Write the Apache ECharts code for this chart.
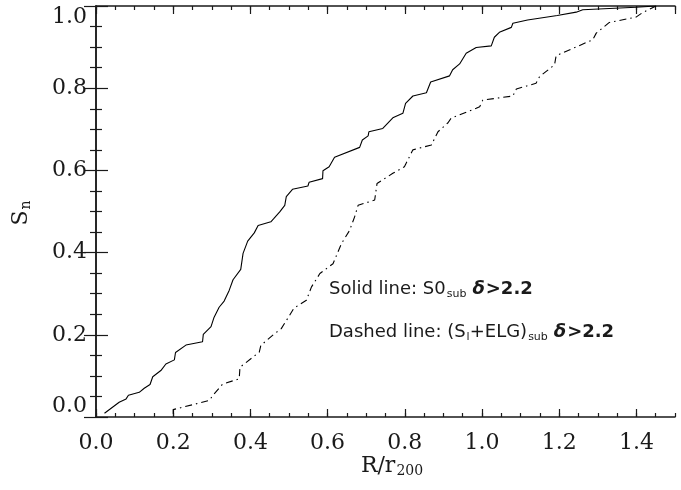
<!DOCTYPE html>
<html>
<head>
<meta charset="utf-8">
<script src="https://cdn.jsdelivr.net/npm/echarts@6/dist/echarts.min.js"></script>
<style>
  html, body { margin: 0; padding: 0; background: #fff; }
  #chart { width: 681px; height: 490px; }
</style>
</head>
<body>
<div id="chart"></div>
<script>
// cumulative fraction S_n vs R/r200
const solidR = [0.022, 0.060, 0.078, 0.084, 0.112, 0.125, 0.140, 0.147, 0.168, 0.181, 0.203, 0.206, 0.233, 0.276, 0.278,
    0.298, 0.306, 0.319, 0.332, 0.345, 0.355, 0.375, 0.381, 0.393, 0.410, 0.420, 0.453, 0.461, 0.476, 0.489,
    0.493, 0.509, 0.549, 0.552, 0.587, 0.588, 0.604, 0.618, 0.683, 0.690, 0.705, 0.707, 0.743, 0.769, 0.795,
    0.802, 0.821, 0.856, 0.867, 0.916, 0.924, 0.942, 0.959, 0.985, 1.024, 1.032, 1.045, 1.076, 1.080, 1.118,
    1.195, 1.244, 1.261, 1.399, 1.451]
const solidS = [0.009, 0.036, 0.044, 0.053, 0.060, 0.070, 0.079, 0.098, 0.113, 0.129, 0.139, 0.157, 0.175, 0.183, 0.201,
    0.220, 0.243, 0.267, 0.282, 0.308, 0.334, 0.359, 0.398, 0.428, 0.448, 0.466, 0.475, 0.483, 0.499, 0.515,
    0.536, 0.554, 0.562, 0.571, 0.580, 0.599, 0.609, 0.632, 0.656, 0.674, 0.684, 0.694, 0.702, 0.728, 0.739,
    0.763, 0.781, 0.789, 0.815, 0.830, 0.845, 0.859, 0.885, 0.899, 0.903, 0.924, 0.936, 0.948, 0.958, 0.966,
    0.977, 0.985, 0.991, 0.997, 1.0]

const dashR = [0.200, 0.200, 0.293, 0.306, 0.328, 0.371, 0.373, 0.423, 0.427, 0.459, 0.480, 0.500, 0.513, 0.545, 0.558,
    0.580, 0.614, 0.636, 0.657, 0.670, 0.679, 0.722, 0.728, 0.769, 0.799, 0.821, 0.869, 0.886, 0.912, 0.920,
    0.985, 0.994, 1.002, 1.080, 1.089, 1.140, 1.149, 1.188, 1.192, 1.287, 1.296, 1.330, 1.399, 1.416, 1.451]
const dashS = [0.008, 0.018, 0.040, 0.056, 0.080, 0.093, 0.121, 0.158, 0.174, 0.200, 0.215, 0.245, 0.265, 0.284, 0.316,
    0.349, 0.373, 0.422, 0.454, 0.487, 0.515, 0.528, 0.568, 0.593, 0.609, 0.650, 0.662, 0.694, 0.716, 0.727,
    0.751, 0.755, 0.771, 0.781, 0.798, 0.812, 0.828, 0.857, 0.879, 0.918, 0.934, 0.960, 0.973, 0.984, 1.0]

const xTicks = [0, 1.5, 0.2, 0.05]   // min, max, major, minor
const yTicks = [0, 1.0, 0.2, 0.05]

const ink = '#1a1a1a'
const serif = 'DejaVu Serif'
const sans = 'DejaVu Sans'

function zip(xs, ys) {
    return xs.map((x, i) => [x, ys[i]])
}

function xAx(pos, step, len, labels) {
    return {
        type: 'value', position: pos, min: xTicks[0], max: xTicks[1], interval: step,
        axisLine: { show: labels !== null, lineStyle: { color: ink, width: 1.5 } },
        axisTick: { show: true, inside: true, length: len, lineStyle: { color: ink, width: 1.2 } },
        axisLabel: labels || { show: false },
        splitLine: { show: false }
    }
}

function yAx(pos, labels) {
    return {
        type: 'value', position: pos, min: yTicks[0], max: yTicks[1], interval: yTicks[2],
        axisLine: { show: true, lineStyle: { color: ink, width: 1.5 } },
        axisTick: { show: true, inside: true, length: 12, lineStyle: { color: ink, width: 1.2 } },
        minorTick: { show: true, splitNumber: 4, length: 6, lineStyle: { color: ink, width: 1.2 } },
        axisLabel: labels || { show: false },
        splitLine: { show: false }
    }
}

// rich styles for the two notes
const noteRich = {
    t: { fontFamily: sans, fontSize: 18, fill: ink, verticalAlign: 'middle' },
    s: { fontFamily: sans, fontSize: 11, fill: ink, padding: [11, 0, 0, 1], verticalAlign: 'middle' },
    g: { fontFamily: sans, fontSize: 18, fontStyle: 'italic', fontWeight: 'bold', fill: ink, verticalAlign: 'middle', padding: [0, 1, 0, 6] },
    d: { fontFamily: sans, fontSize: 18, fontWeight: 'bold', fill: ink, verticalAlign: 'middle' }
}

const chart = echarts.init(document.getElementById('chart'), null, { renderer: 'canvas' })

chart.setOption({
    animation: false,
    backgroundColor: '#fff',
    grid: { left: 96, right: 6, top: 6, bottom: 73 },
    xAxis: [
        xAx('bottom', xTicks[2], 8, {
            show: true, showMaxLabel: false, margin: 15, color: ink,
            fontFamily: serif, fontSize: 22, formatter: v => v.toFixed(1)
        }),
        xAx('bottom', xTicks[3], 4, null),
        xAx('top', xTicks[2], 8, { show: false }),
        xAx('top', xTicks[3], 4, null)
    ],
    yAxis: [
        yAx('left', {
            show: true, margin: 9, color: ink, fontFamily: serif, fontSize: 22,
            verticalAlignMinLabel: 'bottom', verticalAlignMaxLabel: 'top',
            formatter: v => v.toFixed(1)
        }),
        yAx('right', null)
    ],
    series: [
        {
            type: 'line', data: zip(solidR, solidS), showSymbol: false, smooth: false,
            lineStyle: { color: '#000', width: 1.1 }
        },
        {
            type: 'line', data: zip(dashR, dashS), showSymbol: false, smooth: false,
            lineStyle: { color: '#000', width: 1.1, type: [7, 4, 1.5, 4] }
        }
    ],
    graphic: [
        {
            type: 'text', left: 329, top: 280,
            style: { text: '{t|Solid line: S0}{s|sub}{g|δ}{d|>2.2}', rich: noteRich }
        },
        {
            type: 'text', left: 329, top: 323,
            style: { text: '{t|Dashed line: (S}{s|l}{t|+ELG)}{s|sub}{g|δ}{d|>2.2}', rich: noteRich }
        },
        {
            type: 'text', x: 392, y: 466,
            style: {
                text: '{m|R/r}{s|200}', align: 'center', verticalAlign: 'middle',
                rich: {
                    m: { fontFamily: serif, fontSize: 22, fill: ink, verticalAlign: 'middle' },
                    s: { fontFamily: serif, fontSize: 14, fill: ink, padding: [10, 0, 0, 1], verticalAlign: 'middle' }
                }
            }
        },
        {
            type: 'text', x: 21, y: 213, rotation: Math.PI / 2,
            style: {
                text: '{m|S}{s|n}', align: 'center', verticalAlign: 'middle',
                rich: {
                    m: { fontFamily: serif, fontSize: 22, fill: ink, verticalAlign: 'middle' },
                    s: { fontFamily: serif, fontSize: 14, fill: ink, padding: [10, 0, 0, 1], verticalAlign: 'middle' }
                }
            }
        }
    ]
})
</script>
</body>
</html>
